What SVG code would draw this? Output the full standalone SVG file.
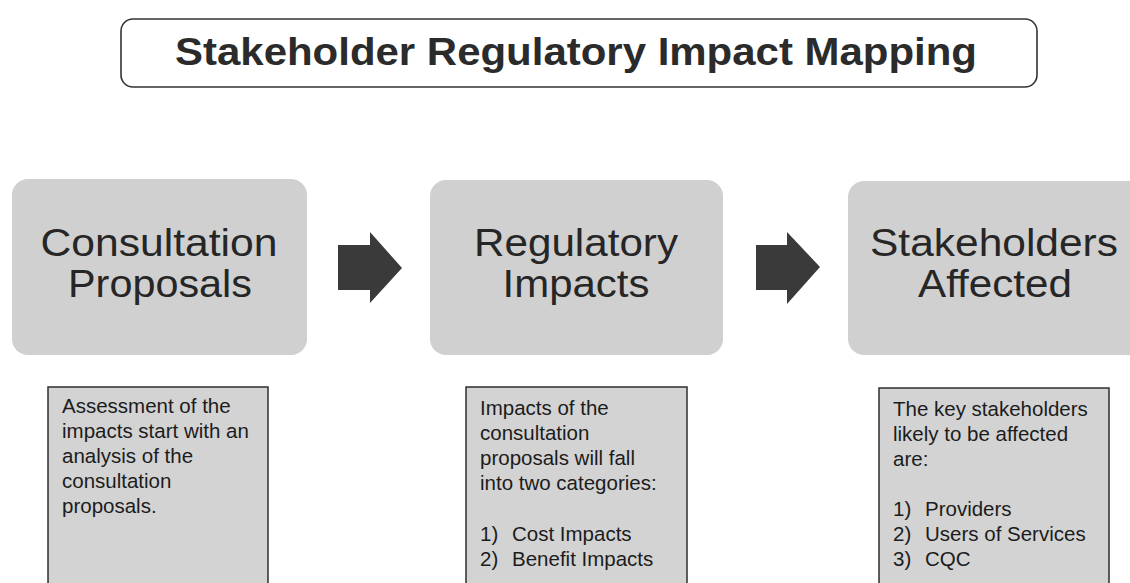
<svg xmlns="http://www.w3.org/2000/svg" width="1130" height="583" viewBox="0 0 1130 583">
  <style>
    .title { font-family: "Liberation Sans", Arial, sans-serif; font-weight: bold; font-size: 38px; fill: #2b2b2b; }
    .stage { fill: #d0d0d0; }
    .stage-label { font-family: "Liberation Sans", Arial, sans-serif; font-size: 38px; fill: #262626; text-anchor: middle; }
    .note { fill: #d3d3d3; stroke: #2e2e2e; stroke-width: 1.5; }
    .note-text { font-family: "Liberation Sans", Arial, sans-serif; font-size: 20.5px; fill: #1c1c1c; }
    .block-arrow { fill: #3a3a3a; }
  </style>

  <rect width="1130" height="583" fill="#ffffff"/>

  <!-- heading -->
  <g id="title">
    <rect x="121" y="19" width="916" height="68" rx="12" ry="12" fill="#ffffff" stroke="#333333" stroke-width="1.6"/>
    <text class="title" x="576" y="65" text-anchor="middle" textLength="802" lengthAdjust="spacingAndGlyphs">Stakeholder Regulatory Impact Mapping</text>
  </g>

  <!-- stage 1 -->
  <g id="consultation-proposals">
    <rect class="stage" x="12" y="179" width="295" height="176" rx="16" ry="16"/>
    <text class="stage-label" x="159" y="256" textLength="237" lengthAdjust="spacingAndGlyphs">Consultation</text>
    <text class="stage-label" x="160" y="297" textLength="184" lengthAdjust="spacingAndGlyphs">Proposals</text>
  </g>

  <!-- stage 2 -->
  <g id="regulatory-impacts">
    <rect class="stage" x="430" y="180" width="293" height="175" rx="16" ry="16"/>
    <text class="stage-label" x="576" y="256" textLength="204" lengthAdjust="spacingAndGlyphs">Regulatory</text>
    <text class="stage-label" x="576" y="297" textLength="147" lengthAdjust="spacingAndGlyphs">Impacts</text>
  </g>

  <!-- stage 3 (runs past the right edge) -->
  <g id="stakeholders-affected">
    <rect class="stage" x="848" y="181" width="300" height="174" rx="16" ry="16"/>
    <text class="stage-label" x="994" y="256" textLength="248" lengthAdjust="spacingAndGlyphs">Stakeholders</text>
    <text class="stage-label" x="995" y="297" textLength="154" lengthAdjust="spacingAndGlyphs">Affected</text>
  </g>

  <!-- block arrows between stages -->
  <g id="connectors">
    <polygon class="block-arrow" points="338,245 370,245 370,232 402,268 370,303 370,290 338,290"/>
    <polygon class="block-arrow" points="756,245 787,245 787,232 820,267 787,304 787,290 756,290"/>
  </g>

  <!-- explanatory notes -->
  <g id="note-consultation">
    <rect class="note" x="48" y="387" width="220" height="210"/>
    <text class="note-text">
      <tspan x="62" y="413">Assessment of the</tspan>
      <tspan x="62" y="438">impacts start with an</tspan>
      <tspan x="62" y="463">analysis of the</tspan>
      <tspan x="62" y="488">consultation</tspan>
      <tspan x="62" y="513">proposals.</tspan>
    </text>
  </g>

  <g id="note-impacts">
    <rect class="note" x="466" y="387" width="221" height="210"/>
    <text class="note-text">
      <tspan x="480" y="415">Impacts of the</tspan>
      <tspan x="480" y="440">consultation</tspan>
      <tspan x="480" y="465">proposals will fall</tspan>
      <tspan x="480" y="490">into two categories:</tspan>
    </text>
    <text class="note-text">
      <tspan x="480" y="541">1)</tspan><tspan x="512" y="541">Cost Impacts</tspan>
      <tspan x="480" y="566">2)</tspan><tspan x="512" y="566">Benefit Impacts</tspan>
    </text>
  </g>

  <g id="note-stakeholders">
    <rect class="note" x="879" y="388" width="230" height="210"/>
    <text class="note-text">
      <tspan x="893" y="416">The key stakeholders</tspan>
      <tspan x="893" y="441">likely to be affected</tspan>
      <tspan x="893" y="466">are:</tspan>
    </text>
    <text class="note-text">
      <tspan x="893" y="516">1)</tspan><tspan x="925" y="516">Providers</tspan>
      <tspan x="893" y="541">2)</tspan><tspan x="925" y="541">Users of Services</tspan>
      <tspan x="893" y="566">3)</tspan><tspan x="925" y="566">CQC</tspan>
    </text>
  </g>
</svg>
